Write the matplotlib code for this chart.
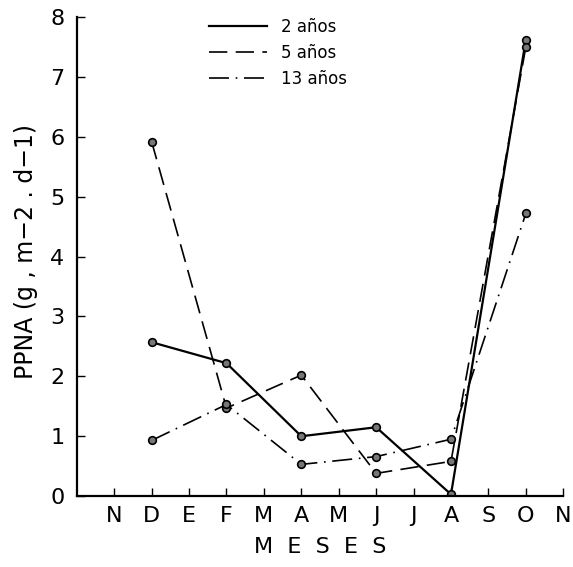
import matplotlib
matplotlib.use("Agg")
import matplotlib.pyplot as plt

# month labels on the x axis (N .. N)
months = ["N", "D", "E", "F", "M", "A", "M", "J", "J", "A", "S", "O", "N"]

# sampling positions (index into months): D, F, A, J, A, O
sample_idx = [1, 3, 5, 7, 9, 11]

ppna_2 = [2.57, 2.22, 1.00, 1.15, 0.03, 7.62]
ppna_5 = [5.92, 1.47, 2.02, 0.38, 0.58, 7.50]
ppna_13 = [0.93, 1.53, 0.53, 0.66, 0.95, 4.72]

series = [
    ("2 años", ppna_2, "-", 1.6),
    ("5 años", ppna_5, (0, (11, 5)), 1.2),
    ("13 años", ppna_13, (0, (12, 4, 1, 4)), 1.2),
]

plt.rcParams["font.family"] = "DejaVu Sans"

fig = plt.figure(figsize=(5.73, 5.67), dpi=100)
ax = fig.add_axes([0.134, 0.125, 0.849, 0.845])

for label, vals, ls, lw in series:
    ax.plot(sample_idx, vals, linestyle=ls, color="black", linewidth=lw,
            marker="o", markersize=5.5, markerfacecolor="#777777",
            markeredgecolor="black", markeredgewidth=1.2, label=label)

ax.set_xlim(-1, 12)
ax.set_ylim(0, 8)
ax.set_xticks(range(len(months)))
ax.set_xticklabels(months)
ax.set_yticks(range(0, 9))

for s in ["top", "right"]:
    ax.spines[s].set_visible(False)
for s in ["left", "bottom"]:
    ax.spines[s].set_linewidth(1.6)

ax.tick_params(axis="both", direction="in", length=6, width=1.0,
               labelsize=16)
ax.tick_params(axis="x", pad=7)
ax.tick_params(axis="y", pad=9)

ax.set_xlabel("M  E  S  E  S", fontsize=16, labelpad=8)
ax.set_ylabel("PPNA (g , m\u22122 . d\u22121)", fontsize=17)
ax.yaxis.set_label_coords(-0.08, 0.51)

leg = ax.legend(loc="upper left", bbox_to_anchor=(0.24, 1.03), frameon=False,
                fontsize=12, handlelength=3.5, handletextpad=0.85,
                labelspacing=0.5)
for h in leg.legend_handles:
    h.set_marker("")

fig.savefig("out.png", dpi=100)
